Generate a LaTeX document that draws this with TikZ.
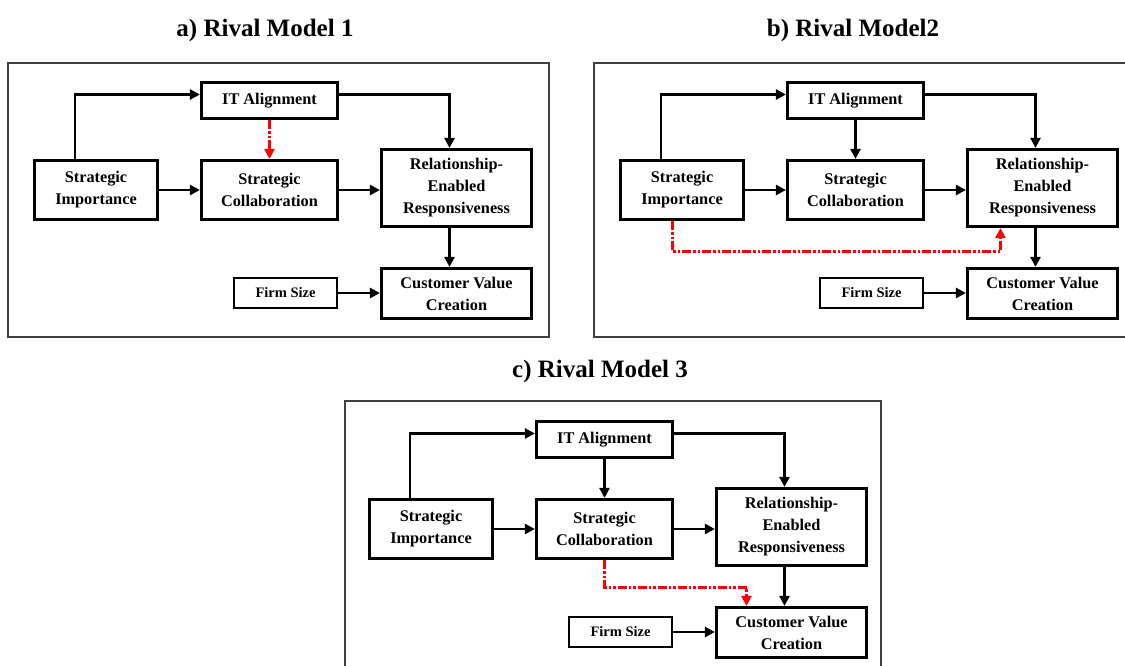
\documentclass[tikz,border=0pt]{standalone}
\usepackage{fontspec}
\setmainfont{Liberation Serif}
\usetikzlibrary{arrows.meta}

\newcommand\boxfont{\fontsize{16.3}{22}\selectfont\bfseries}
\newcommand\smallboxfont{\fontsize{14.5}{18}\selectfont\bfseries}
\newcommand\titlefont{\fontsize{25}{30}\selectfont\bfseries}

\tikzset{
  box/.style={draw, line width=3.2pt, align=center, inner sep=0pt, font=\boxfont},
  thinbox/.style={draw, line width=1.8pt, align=center, inner sep=0pt, font=\smallboxfont},
  conn/.style={line width=2.9pt, -{Triangle[length=10pt,width=10pt]}},
  redconn/.style={draw=red, line width=3pt,
    dash pattern=on 9pt off 2pt on 2.5pt off 2pt on 2.5pt off 2pt,
    -{Triangle[length=10pt,width=10pt]}},
  frame/.style={draw=black!75, line width=1.3pt},
  paneltitle/.style={font=\titlefont, anchor=base, inner sep=0pt},
}

% One rival model: its six constructs and the paths shared by all models
\newcommand\rivalmodel[1]{%
  \node[box, minimum width=136pt, minimum height=36pt] (#1IT) at (269.5,100.5) {IT Alignment};
  \node[box, minimum width=123pt, minimum height=59pt] (#1SI) at (96,190) {Strategic\\Importance};
  \node[box, minimum width=136pt, minimum height=59pt] (#1SC) at (269.5,190) {Strategic\\Collaboration};
  \node[box, minimum width=150pt, minimum height=77pt] (#1REL) at (456.5,188) {Relationship-\\Enabled\\Responsiveness};
  \node[box, minimum width=150pt, minimum height=50pt] (#1CVC) at (456.5,293.5) {Customer Value\\Creation};
  \node[thinbox, minimum width=103pt, minimum height=30pt] (#1FS) at (285.5,293) {Firm Size};
  \draw[conn] ([xshift=-21pt]#1SI.north) |- ([yshift=6pt]#1IT.west);
  \draw[conn] ([yshift=6pt]#1IT.east) -| ([xshift=-7pt]#1REL.north);
  \draw[conn] (#1SI.east) -- (#1SC.west);
  \draw[conn] (#1SC.east) -- (#1SC.east -| #1REL.west);
  \draw[conn] ([xshift=-7pt]#1REL.south) -- ([xshift=-7pt]#1CVC.north);
  \draw[conn] (#1FS.east) -- (#1FS.east -| #1CVC.west);
}

\begin{document}
\begin{tikzpicture}[x=1pt, y=-1pt]
  \useasboundingbox[fill=white] (0,0) rectangle (1125,666);

  % panel frames
  \draw[frame] (8,63) rectangle (549,337);
  \draw[frame] (1125,63) -- (594,63) -- (594,337) -- (1125,337);
  \draw[frame] (345,666) -- (345,401) -- (881,401) -- (881,666);

  % titles
  \node[paneltitle] (ta) at (265,37) {a) Rival Model 1};
  \node[paneltitle] (tb) at (853,37) {b) Rival Model2};
  \node[paneltitle] (tc) at (600,377) {c) Rival Model 3};

  % a) Rival Model 1
  \rivalmodel{a}
  \draw[redconn] (aIT.south) -- (aSC.north);

  % b) Rival Model 2
  \begin{scope}[shift={(586,0)}]
    \rivalmodel{b}
  \end{scope}
  \draw[conn] (bIT.south) -- (bSC.north);
  \draw[redconn] ([xshift=-10pt]bSI.south) -- ++(0,30) -| ([xshift=-42pt]bREL.south);

  % c) Rival Model 3
  \begin{scope}[shift={(335,339)}]
    \rivalmodel{c}
  \end{scope}
  \draw[conn] (cIT.south) -- (cSC.north);
  \draw[redconn] (cSC.south) -- ++(0,27) -| ([xshift=-45pt]cCVC.north);
\end{tikzpicture}
\end{document}
